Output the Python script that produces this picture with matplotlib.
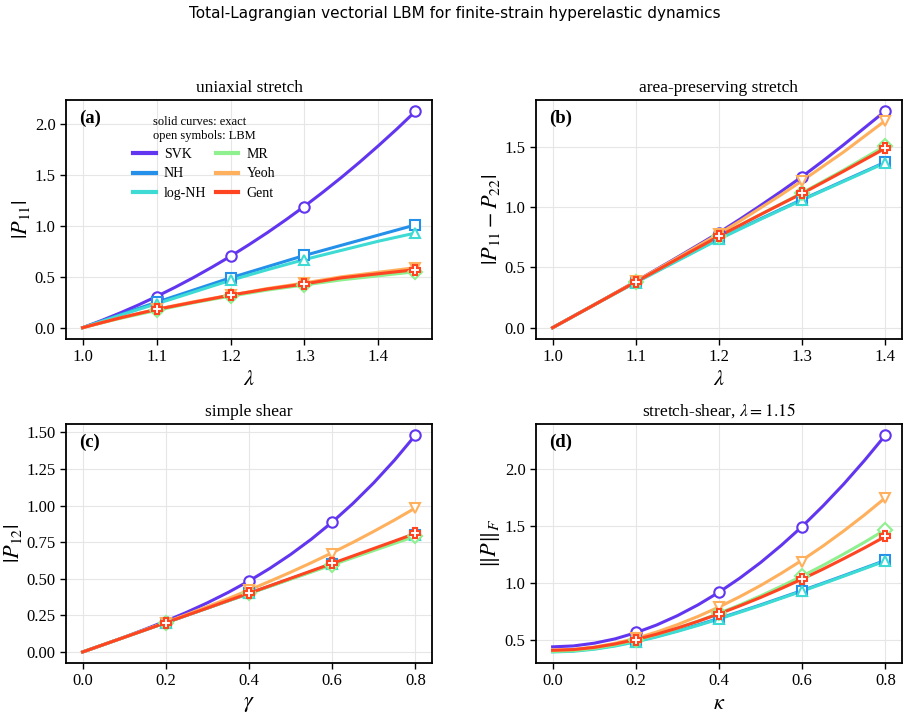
import numpy as np
import matplotlib
matplotlib.use("Agg")
import matplotlib.pyplot as plt

plt.rcParams["font.family"] = "serif"
plt.rcParams["font.serif"] = ["Liberation Serif", "DejaVu Serif"]
plt.rcParams["mathtext.fontset"] = "stix"

models = ["SVK", "NH", "log-NH", "MR", "Yeoh", "Gent"]
colors = ["#6236f0", "#2490ea", "#3ddbd3", "#8ef08e", "#ffb05c", "#ff4422"]
markers = ["o", "s", "^", "D", "v", "P"]

# (a) uniaxial stretch
lam_a = [1.0, 1.025, 1.05, 1.075, 1.1, 1.125, 1.15, 1.175, 1.2, 1.225,
         1.25, 1.275, 1.3, 1.325, 1.35, 1.375, 1.4, 1.425, 1.45]
exact_a = {
    "SVK":    [0, 0.069, 0.143, 0.222, 0.307, 0.397, 0.493, 0.595, 0.702, 0.816,
               0.935, 1.061, 1.193, 1.332, 1.477, 1.629, 1.788, 1.953, 2.126],
    "NH":     [0, 0.063, 0.125, 0.188, 0.25, 0.31, 0.37, 0.43, 0.49, 0.545,
               0.60, 0.655, 0.71, 0.76, 0.81, 0.86, 0.91, 0.96, 1.01],
    "log-NH": [0, 0.06, 0.12, 0.178, 0.235, 0.292, 0.35, 0.408, 0.465, 0.518,
               0.57, 0.62, 0.67, 0.715, 0.76, 0.805, 0.85, 0.89, 0.93],
    "MR":     [0, 0.046, 0.09, 0.13, 0.17, 0.208, 0.245, 0.278, 0.31, 0.34,
               0.37, 0.395, 0.42, 0.445, 0.47, 0.49, 0.51, 0.53, 0.55],
    "Yeoh":   [0, 0.048, 0.095, 0.138, 0.18, 0.218, 0.255, 0.288, 0.32, 0.352,
               0.385, 0.412, 0.44, 0.47, 0.50, 0.522, 0.545, 0.567, 0.59],
    "Gent":   [0, 0.048, 0.095, 0.138, 0.18, 0.215, 0.25, 0.285, 0.32, 0.35,
               0.38, 0.405, 0.43, 0.46, 0.49, 0.51, 0.53, 0.55, 0.57],
}
lbm_lam_a = [1.1, 1.2, 1.3, 1.45]
lbm_a = {
    "SVK":    [0.30, 0.70, 1.19, 2.13],
    "NH":     [0.25, 0.49, 0.71, 1.01],
    "log-NH": [0.235, 0.465, 0.67, 0.93],
    "MR":     [0.17, 0.31, 0.42, 0.55],
    "Yeoh":   [0.18, 0.32, 0.44, 0.59],
    "Gent":   [0.18, 0.32, 0.43, 0.57],
}

# (b) area-preserving stretch
lam_b = [1.0, 1.025, 1.05, 1.075, 1.1, 1.125, 1.15, 1.175, 1.2, 1.225,
         1.25, 1.275, 1.3, 1.325, 1.35, 1.375, 1.4]
exact_b = {
    "SVK":    [0, 0.095, 0.19, 0.287, 0.385, 0.485, 0.585, 0.687, 0.79, 0.90,
               1.015, 1.133, 1.255, 1.385, 1.52, 1.66, 1.80],
    "NH":     [0, 0.095, 0.19, 0.285, 0.38, 0.47, 0.56, 0.65, 0.74, 0.823,
               0.905, 0.985, 1.065, 1.142, 1.22, 1.297, 1.375],
    "log-NH": [0, 0.095, 0.19, 0.283, 0.375, 0.465, 0.555, 0.645, 0.735, 0.818,
               0.90, 0.98, 1.06, 1.138, 1.215, 1.292, 1.37],
    "MR":     [0, 0.095, 0.19, 0.285, 0.38, 0.475, 0.57, 0.665, 0.76, 0.85,
               0.94, 1.03, 1.12, 1.215, 1.31, 1.41, 1.51],
    "Yeoh":   [0, 0.095, 0.19, 0.287, 0.385, 0.482, 0.58, 0.68, 0.78, 0.885,
               0.995, 1.105, 1.22, 1.34, 1.46, 1.59, 1.72],
    "Gent":   [0, 0.095, 0.19, 0.285, 0.38, 0.475, 0.57, 0.665, 0.76, 0.85,
               0.94, 1.028, 1.115, 1.207, 1.30, 1.395, 1.49],
}
lbm_lam_b = [1.1, 1.2, 1.3, 1.4]
lbm_b = {
    "SVK":    [0.385, 0.79, 1.255, 1.80],
    "NH":     [0.38, 0.74, 1.065, 1.375],
    "log-NH": [0.375, 0.735, 1.06, 1.37],
    "MR":     [0.38, 0.76, 1.12, 1.51],
    "Yeoh":   [0.385, 0.78, 1.22, 1.72],
    "Gent":   [0.38, 0.76, 1.115, 1.49],
}

# (c) simple shear
gam_c = [0.0, 0.05, 0.1, 0.15, 0.2, 0.25, 0.3, 0.35, 0.4, 0.45,
         0.5, 0.55, 0.6, 0.65, 0.7, 0.75, 0.8]
exact_c = {
    "SVK":    [0, 0.050, 0.101, 0.155, 0.211, 0.271, 0.336, 0.407, 0.485, 0.571,
               0.666, 0.771, 0.887, 1.015, 1.156, 1.311, 1.481],
    "NH":     [0, 0.05, 0.10, 0.15, 0.20, 0.25, 0.30, 0.35, 0.40, 0.45,
               0.50, 0.55, 0.60, 0.65, 0.70, 0.75, 0.80],
    "log-NH": [0, 0.05, 0.10, 0.15, 0.20, 0.25, 0.30, 0.35, 0.40, 0.45,
               0.50, 0.55, 0.60, 0.65, 0.70, 0.75, 0.80],
    "MR":     [0, 0.05, 0.10, 0.15, 0.20, 0.25, 0.30, 0.349, 0.399, 0.448,
               0.497, 0.546, 0.595, 0.644, 0.693, 0.742, 0.79],
    "Yeoh":   [0, 0.050, 0.100, 0.151, 0.203, 0.256, 0.310, 0.365, 0.423, 0.483,
               0.545, 0.610, 0.678, 0.749, 0.824, 0.902, 0.984],
    "Gent":   [0, 0.05, 0.10, 0.15, 0.20, 0.25, 0.30, 0.351, 0.401, 0.452,
               0.503, 0.554, 0.605, 0.656, 0.707, 0.758, 0.81],
}
lbm_gam_c = [0.2, 0.4, 0.6, 0.8]
lbm_c = {
    "SVK":    [0.205, 0.485, 0.89, 1.48],
    "NH":     [0.20, 0.40, 0.60, 0.80],
    "log-NH": [0.20, 0.40, 0.60, 0.80],
    "MR":     [0.20, 0.40, 0.595, 0.79],
    "Yeoh":   [0.20, 0.42, 0.67, 0.985],
    "Gent":   [0.20, 0.40, 0.605, 0.81],
}

# (d) stretch-shear, lambda = 1.15
kap_d = [0.0, 0.05, 0.1, 0.15, 0.2, 0.25, 0.3, 0.35, 0.4, 0.45,
         0.5, 0.55, 0.6, 0.65, 0.7, 0.75, 0.8]
exact_d = {
    "SVK":    [0.44, 0.448, 0.472, 0.510, 0.564, 0.632, 0.714, 0.810, 0.92, 1.044,
               1.181, 1.333, 1.498, 1.678, 1.871, 2.079, 2.30],
    "NH":     [0.40, 0.406, 0.424, 0.452, 0.489, 0.532, 0.581, 0.634, 0.69, 0.749,
               0.809, 0.872, 0.935, 1.000, 1.066, 1.133, 1.20],
    "log-NH": [0.395, 0.401, 0.419, 0.447, 0.484, 0.527, 0.576, 0.629, 0.685, 0.744,
               0.804, 0.867, 0.930, 0.995, 1.061, 1.128, 1.195],
    "MR":     [0.40, 0.407, 0.426, 0.457, 0.498, 0.547, 0.603, 0.666, 0.735, 0.809,
               0.888, 0.973, 1.062, 1.156, 1.256, 1.360, 1.47],
    "Yeoh":   [0.41, 0.417, 0.438, 0.471, 0.515, 0.570, 0.635, 0.708, 0.79, 0.881,
               0.979, 1.087, 1.202, 1.326, 1.459, 1.600, 1.75],
    "Gent":   [0.41, 0.416, 0.435, 0.465, 0.504, 0.551, 0.605, 0.665, 0.73, 0.800,
               0.874, 0.953, 1.036, 1.123, 1.215, 1.310, 1.41],
}
lbm_kap_d = [0.2, 0.4, 0.6, 0.8]
lbm_d = {
    "SVK":    [0.57, 0.92, 1.49, 2.30],
    "NH":     [0.485, 0.69, 0.93, 1.20],
    "log-NH": [0.48, 0.685, 0.93, 1.195],
    "MR":     [0.50, 0.735, 1.065, 1.47],
    "Yeoh":   [0.515, 0.79, 1.19, 1.75],
    "Gent":   [0.50, 0.73, 1.04, 1.41],
}

panels = [
    ("(a)", "uniaxial stretch", r"$\lambda$", r"$|P_{11}|$", lam_a, exact_a, lbm_lam_a, lbm_a),
    ("(b)", "area-preserving stretch", r"$\lambda$", r"$|P_{11}-P_{22}|$", lam_b, exact_b, lbm_lam_b, lbm_b),
    ("(c)", "simple shear", r"$\gamma$", r"$|P_{12}|$", gam_c, exact_c, lbm_gam_c, lbm_c),
    ("(d)", r"stretch-shear, $\lambda = 1.15$", r"$\kappa$", r"$\|P\|_F$", kap_d, exact_d, lbm_kap_d, lbm_d),
]

fig, axes = plt.subplots(2, 2, figsize=(9.09, 7.15), dpi=100)
plt.subplots_adjust(left=0.0726, right=0.9923, top=0.860, bottom=0.073, wspace=0.284, hspace=0.36)

for ax, (tag, title, xl, yl, xs, ex, lx, lb) in zip(axes.flat, panels):
    for m, c, mk in zip(models, colors, markers):
        ax.plot(xs, ex[m], color=c, lw=2.2, label=m, zorder=2)
        ax.plot(lx, lb[m], ls="none", marker=mk, ms=7.5, mfc="white", mec=c, mew=1.5, zorder=3)
    ax.grid(color="#e6e6e6", lw=0.8)
    ax.set_axisbelow(True)
    ax.set_title(title, fontsize=12.5)
    ax.set_xlabel(xl, fontsize=16)
    ax.set_ylabel(yl, fontsize=16, labelpad=2)
    ax.tick_params(labelsize=12, direction="out", length=4, width=1)
    for sp in ax.spines.values():
        sp.set_linewidth(1.3)
    ax.text(0.035, 0.925, tag, transform=ax.transAxes, fontsize=13.5, fontweight="bold", va="center")

axes[0, 0].set_xticks([1.0, 1.1, 1.2, 1.3, 1.4])
axes[0, 0].set_yticks([0.0, 0.5, 1.0, 1.5, 2.0])
axes[0, 1].set_xticks([1.0, 1.1, 1.2, 1.3, 1.4])
axes[0, 1].set_yticks([0.0, 0.5, 1.0, 1.5])
axes[1, 0].set_xticks([0.0, 0.2, 0.4, 0.6, 0.8])
axes[1, 0].set_yticks([0.0, 0.25, 0.5, 0.75, 1.0, 1.25, 1.5])
axes[1, 0].set_yticklabels(["0.00", "0.25", "0.50", "0.75", "1.00", "1.25", "1.50"])
axes[1, 1].set_xticks([0.0, 0.2, 0.4, 0.6, 0.8])
axes[1, 1].set_yticks([0.5, 1.0, 1.5, 2.0])

leg = axes[0, 0].legend(loc="upper left", bbox_to_anchor=(0.15, 0.985), ncol=2, frameon=False,
                        title="solid curves: exact\nopen symbols: LBM", title_fontsize=9,
                        fontsize=10, handlelength=1.6, handletextpad=0.6, columnspacing=0.7,
                        labelspacing=0.45)
for h in leg.get_lines():
    h.set_linewidth(3)

fig.suptitle("Total-Lagrangian vectorial LBM for finite-strain hyperelastic dynamics",
             fontsize=11, family="DejaVu Sans", y=0.992)

plt.savefig("out.png", dpi=100)
